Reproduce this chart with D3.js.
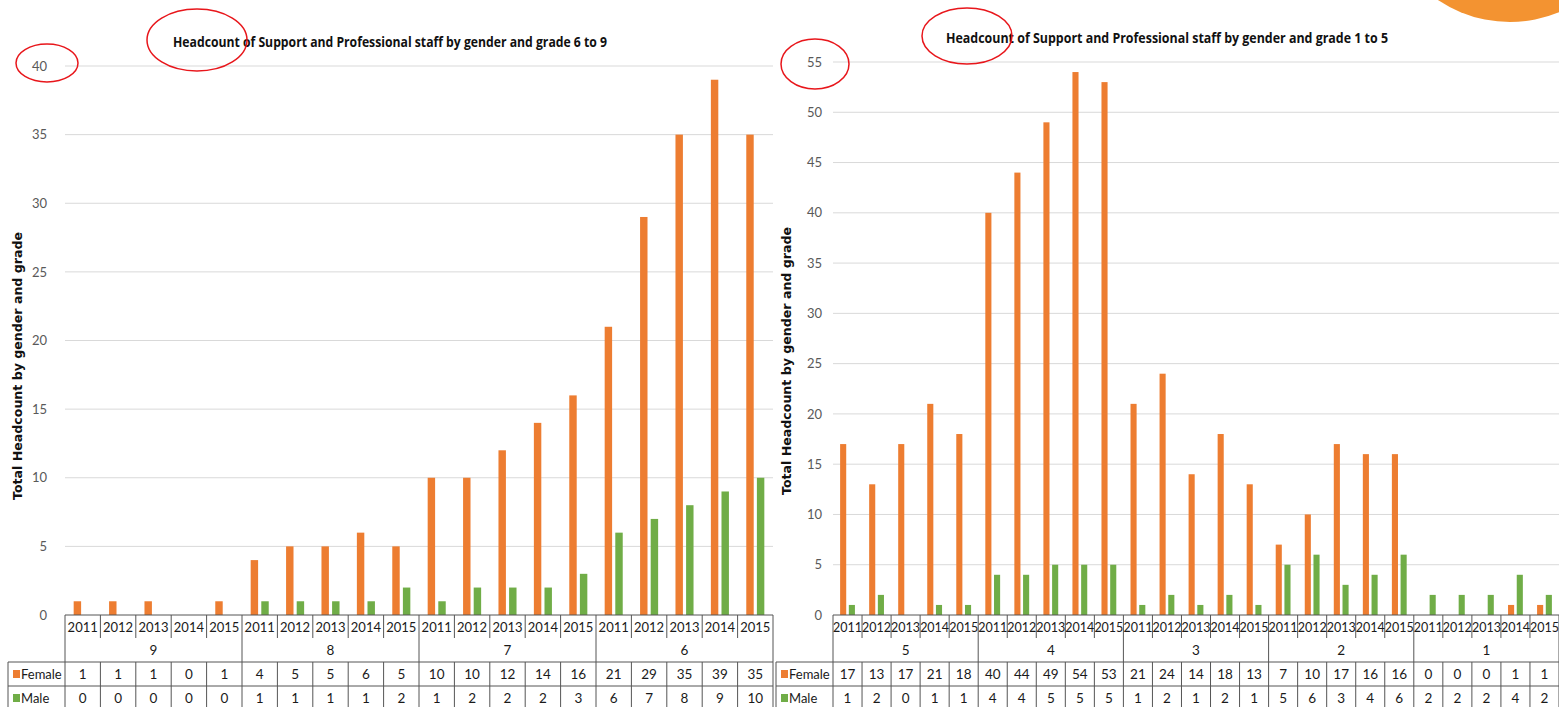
<!DOCTYPE html>
<html>
<head>
<meta charset="utf-8">
<script src="https://cdn.jsdelivr.net/npm/d3@7"></script>
<style>
  html, body { margin: 0; padding: 0; background: #fff; overflow: hidden; }
  svg { display: block; }
  text { font-family: Lato, "Open Sans", sans-serif; }
</style>
</head>
<body>
<svg id="chart" width="1559" height="707"></svg>
<script>
// data
const years = ["2011", "2012", "2013", "2014", "2015"];
const series = ["Female", "Male"];

const gradesLeft = ["9", "8", "7", "6"];
const femaleLeft = [1, 1, 1, 0, 1, 4, 5, 5, 6, 5, 10, 10, 12, 14, 16, 21, 29, 35, 39, 35];
const maleLeft   = [0, 0, 0, 0, 0, 1, 1, 1, 1, 2, 1, 2, 2, 2, 3, 6, 7, 8, 9, 10];

const gradesRight = ["5", "4", "3", "2", "1"];
const femaleRight = [17, 13, 17, 21, 18, 40, 44, 49, 54, 53, 21, 24, 14, 18, 13, 7, 10, 17, 16, 16, 0, 0, 0, 1, 1];
const maleRight   = [1, 2, 0, 1, 1, 4, 4, 5, 5, 5, 1, 2, 1, 2, 1, 5, 6, 3, 4, 6, 2, 2, 2, 4, 2];

const yTicksLeft = d3.range(0, 41, 5);
const yTicksRight = d3.range(0, 56, 5);

const color = d3.scaleOrdinal().domain(series).range(["#ED7D31", "#70AD47"]);

const svg = d3.select("#chart");

// decorative orange blob top right
svg.append("circle")
  .attr("cx", 1510).attr("cy", -107).attr("r", 129)
  .attr("fill", "#F39331");

function drawChart(o) {
  const g = svg.append("g");
  const cells = [];
  o.grades.forEach((gr, gi) => years.forEach((yr, yi) => {
    const i = gi * years.length + yi;
    cells.push({key: gr + "|" + yr, grade: gr, year: yr, Female: o.female[i], Male: o.male[i]});
  }));

  const x = d3.scaleBand().domain(cells.map(d => d.key)).range([o.left, o.right]).padding(0);
  const bw = x.bandwidth();
  const x1 = d3.scaleBand().domain(series)
    .range([bw * 0.245, bw * 0.755]).paddingInner(0.3);
  const y = d3.scaleLinear().domain([0, o.ymax]).range([o.y0, o.yTop]);

  // grid
  g.append("g")
    .selectAll("line").data(o.ticks.filter(t => t > 0)).enter().append("line")
    .attr("x1", o.left).attr("x2", o.right)
    .attr("y1", d => y(d)).attr("y2", d => y(d))
    .attr("stroke", "#d9d9d9").attr("stroke-width", 1);

  // y axis labels
  const ya = g.append("g")
    .attr("transform", `translate(${o.left},0)`)
    .call(d3.axisLeft(y).tickValues(o.ticks).tickSize(0).tickPadding(o.tickPad));
  ya.select(".domain").remove();
  ya.selectAll("text").attr("fill", "#595959").style("font-size", "13px")
    .style("font-family", "Lato, 'Open Sans', sans-serif");

  // bars
  const cg = g.selectAll(".cell").data(cells).enter().append("g")
    .attr("transform", d => `translate(${x(d.key)},0)`);
  cg.selectAll("rect")
    .data(d => series.map(s => ({s, v: d[s]})).filter(e => e.v > 0))
    .enter().append("rect")
    .attr("x", e => x1(e.s)).attr("width", x1.bandwidth())
    .attr("y", e => y(e.v)).attr("height", e => y(0) - y(e.v))
    .attr("fill", e => color(e.s));

  // table
  const line = "#555";
  const t = g.append("g").attr("stroke", line).attr("stroke-width", 1);
  const rowTop = o.y0 + 47, rowMid = rowTop + 24, rowBot = rowMid + 24;
  t.append("line").attr("x1", o.left).attr("x2", o.right).attr("y1", o.y0).attr("y2", o.y0);
  t.append("line").attr("x1", o.legendX).attr("x2", o.right).attr("y1", rowTop).attr("y2", rowTop);
  t.append("line").attr("x1", o.legendX).attr("x2", o.right).attr("y1", rowMid).attr("y2", rowMid);
  t.append("line").attr("x1", o.legendX).attr("x2", o.right).attr("y1", rowBot).attr("y2", rowBot);
  t.append("line").attr("x1", o.legendX).attr("x2", o.legendX).attr("y1", rowTop).attr("y2", rowBot);
  // vertical separators
  cells.forEach((d, i) => {
    const xl = x(d.key);
    const groupStart = i % years.length === 0;
    t.append("line").attr("x1", xl).attr("x2", xl)
      .attr("y1", groupStart ? o.y0 : rowTop).attr("y2", rowBot);
    if (!groupStart) {
      t.append("line").attr("x1", xl).attr("x2", xl).attr("y1", o.y0).attr("y2", o.y0 + 23);
    }
  });
  t.append("line").attr("x1", o.right).attr("x2", o.right).attr("y1", o.y0).attr("y2", rowBot);

  const txt = g.append("g").attr("fill", "#1a1a1a")
    .attr("text-anchor", "middle").attr("dominant-baseline", "central");
  cells.forEach(d => {
    const cx = x(d.key) + bw / 2;
    txt.append("text").attr("x", cx).attr("y", o.y0 + 12).style("font-size", o.yearFont).text(d.year);
    txt.append("text").attr("x", cx).attr("y", rowTop + 12).style("font-size", "13.5px").text(d.Female);
    txt.append("text").attr("x", cx).attr("y", rowMid + 12).style("font-size", "13.5px").text(d.Male);
  });
  o.grades.forEach((gr, gi) => {
    const x0 = x(gr + "|" + years[0]);
    txt.append("text").attr("x", x0 + bw * years.length / 2).attr("y", o.y0 + 35)
      .style("font-size", "13.5px").text(gr);
  });

  // legend keys
  series.forEach((s, i) => {
    const cy = rowTop + 12 + i * 24;
    g.append("rect").attr("x", o.legendX + 5).attr("y", cy - 4)
      .attr("width", 7).attr("height", 8).attr("fill", color(s));
    g.append("text").attr("x", o.legendX + 13).attr("y", cy)
      .attr("dominant-baseline", "central").attr("fill", "#1a1a1a")
      .style("font-size", "13px").text(s);
  });

  // axis title
  g.append("text")
    .attr("transform", `translate(${o.yTitleX},${o.yTitleY}) rotate(-90)`)
    .attr("text-anchor", "middle").attr("dominant-baseline", "central")
    .style("font-family", "'DejaVu Sans', sans-serif")
    .style("font-weight", "bold").style("font-size", "12.5px").attr("fill", "#111")
    .attr("textLength", 268).attr("lengthAdjust", "spacingAndGlyphs")
    .text("Total Headcount by gender and grade");

  // chart title
  g.append("text")
    .attr("x", o.titleX).attr("y", o.titleY)
    .attr("text-anchor", "middle").attr("dominant-baseline", "central")
    .style("font-family", "'Open Sans', Lato, sans-serif")
    .style("font-weight", "bold").style("font-size", "15px").attr("fill", "#111")
    .attr("textLength", o.titleW).attr("lengthAdjust", "spacingAndGlyphs")
    .text(o.title);

  // red annotation ellipses
  o.ellipses.forEach(e => {
    svg.append("ellipse").attr("cx", e[0]).attr("cy", e[1]).attr("rx", e[2]).attr("ry", e[3])
      .attr("fill", "none").attr("stroke", "#E8161B").attr("stroke-width", 1.5);
  });
}

drawChart({
  grades: gradesLeft, female: femaleLeft, male: maleLeft,
  left: 65, right: 773, y0: 615, yTop: 66, ymax: 40, ticks: yTicksLeft, tickPad: 18,
  legendX: 8, yTitleX: 17, yTitleY: 366, titleX: 390, titleY: 41, titleW: 434,
  yearFont: "13px",
  title: "Headcount of Support and Professional staff by gender and grade 6 to 9",
  ellipses: [[197, 40, 50, 31], [47, 63, 31, 19]]
});

drawChart({
  grades: gradesRight, female: femaleRight, male: maleRight,
  left: 833, right: 1559, y0: 615, yTop: 62, ymax: 55, ticks: yTicksRight, tickPad: 11,
  legendX: 776, yTitleX: 786, yTitleY: 361, titleX: 1167, titleY: 37, titleW: 442,
  yearFont: "12.5px",
  title: "Headcount of Support and Professional staff by gender and grade 1 to 5",
  ellipses: [[967, 36, 45, 28], [815, 64, 34, 25]]
});
</script>
</body>
</html>
